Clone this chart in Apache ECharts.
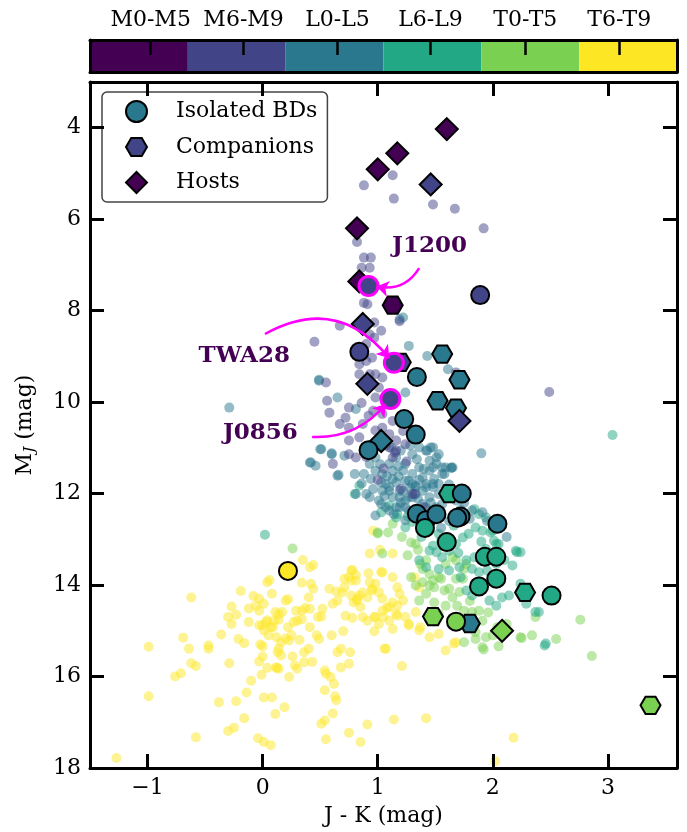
<!DOCTYPE html>
<html>
<head>
<meta charset="utf-8">
<script src="https://cdn.jsdelivr.net/npm/echarts@6.0.0/dist/echarts.min.js"></script>
<style>
  html, body { margin: 0; padding: 0; background: #fff; }
  #chart { width: 687px; height: 832px; }
</style>
</head>
<body>
<div id="chart"></div>
<script>
// spectral type bins (colorbar)
const spTypes = ['M0-M5', 'M6-M9', 'L0-L5', 'L6-L9', 'T0-T5', 'T6-T9'];
const spColors = ['#440154', '#414487', '#2a788e', '#22a884', '#7ad151', '#fde725'];
// where the colorbar ticks sit, in colour-bin units (0..6)
const cbTickPos = [0.62, 1.57, 2.53, 3.48, 4.45, 5.41];

const xTicks = [-1, 0, 1, 2, 3];
const yTicks = [4, 6, 8, 10, 12, 14, 16, 18];

// field objects, [J-K, M_J], one list per spectral bin
const fieldT6T9 = [
    [-0.99,15.35],[-0.99,16.43],[-0.62,14.27],[-0.69,15.15],[-0.64,15.39],[-0.76,16.0],[-0.71,15.93],[-0.62,15.71],
    [-0.58,15.77],[-0.47,15.32],[-0.47,15.39],[-0.58,17.33],[-0.38,16.56],[-0.29,15.71],[-0.36,15.08],[-0.27,14.47],
    [-0.23,14.65],[-0.30,14.70],[-0.27,14.85],[-0.19,14.13],[-0.21,15.18],[-0.16,15.27],[-0.23,16.54],[-0.14,16.35],
    [-0.16,16.91],[-0.30,17.19],[-0.25,17.12],[-0.10,16.09],[-0.12,14.81],[-0.12,14.51],[-0.08,14.24],[-0.03,14.30],
    [-0.03,14.56],[0.01,14.41],[-0.06,14.45],[0.04,13.94],[0.06,13.89],[0.08,14.19],[0.0,14.88],[-0.03,14.88],
    [0.04,14.77],[-0.02,15.30],[0.0,15.34],[0.0,15.56],[-0.03,15.67],[-0.01,15.96],[0.04,15.81],[0.12,15.81],
    [0.01,16.46],[0.08,16.46],[0.11,16.82],[0.19,16.67],[-0.04,17.35],[0.01,17.43],[0.07,17.50],[0.11,14.59],
    [0.14,14.64],[0.20,14.34],[0.22,14.31],[0.07,14.92],[0.10,14.78],[0.14,14.76],[0.17,14.59],[0.03,14.81],
    [0.01,14.99],[0.09,14.92],[0.05,15.10],[0.12,15.14],[0.16,15.25],[0.14,15.39],[0.20,15.17],[0.23,15.21],
    [0.13,15.47],[0.16,15.54],[0.12,15.80],[0.14,15.83],[0.23,16.01],[0.28,15.76],[0.30,15.83],[0.26,15.56],
    [0.36,15.69],[0.43,15.68],[0.40,15.39],[0.36,15.47],[0.32,15.20],[0.25,15.10],[0.22,14.92],[0.27,14.81],
    [0.30,14.78],[0.34,14.75],[0.41,14.92],[0.37,14.50],[0.29,14.56],[0.34,14.56],[0.41,14.52],[0.40,14.27],
    [0.44,14.08],[0.34,13.95],[0.42,13.97],[0.41,13.61],[0.44,13.56],[0.35,13.45],[0.48,14.70],[0.52,14.52],
    [0.51,14.69],[0.47,15.10],[0.49,15.18],[0.54,15.87],[0.55,15.94],[0.59,16.01],[0.62,16.16],[0.54,16.30],
    [0.63,16.43],[0.64,16.52],[0.61,16.81],[0.51,17.03],[0.54,16.96],[0.55,17.37],[0.75,17.23],[0.85,17.43],
    [0.91,17.05],[0.60,15.10],[0.65,15.47],[0.68,15.39],[0.76,15.47],[0.75,15.72],[0.68,15.80],[0.58,14.08],
    [0.64,14.14],[0.69,14.16],[0.61,14.41],[0.65,14.34],[0.70,15.01],[0.77,13.68],[0.81,13.78],[0.92,13.74],
    [0.71,13.86],[0.77,13.90],[0.72,14.67],[0.78,14.72],[0.79,14.38],[0.82,14.34],[0.85,14.48],[0.87,14.70],
    [0.97,14.70],[0.97,15.01],[0.84,14.23],[0.91,14.27],[0.95,14.08],[0.98,13.97],[1.01,14.16],[1.04,14.30],
    [1.05,14.70],[1.08,14.50],[1.13,14.38],[1.13,14.96],[1.07,15.39],[0.93,13.31],[1.04,13.72],[1.13,13.83],
    [1.17,14.05],[1.16,14.63],[1.14,16.94],[0.96,12.81],[1.02,13.23],[1.13,13.31],[0.78,13.67],[0.75,13.83],
    [0.81,13.90],[0.71,14.05],[0.77,14.23],[0.82,14.30],[0.87,14.16],[0.93,13.94],[0.95,14.12],[1.03,13.72],
    [1.19,14.19],[1.22,14.34],[1.17,14.45],[1.10,14.48],[1.04,14.56],[0.98,14.70],[0.91,14.78],[1.01,14.85],
    [1.10,14.78],[1.17,14.67],[1.24,14.70],[1.33,14.59],[1.27,14.85],[1.36,14.99],[1.45,15.14],[1.53,15.07],
    [1.66,15.28],[1.36,14.05],[1.32,13.83],[1.06,15.39],[1.21,15.77],[1.42,16.91],[2.18,17.34],[2.02,17.85],
    [1.59,15.43],[1.68,15.25],[1.37,14.92],[1.27,14.88],[-1.27,17.78]
];
const fieldT0T5 = [
    [1.29,13.07],[1.13,12.66],[1.09,12.85],[1.00,12.85],[1.33,13.10],[1.37,13.54],[1.45,13.76],[1.48,13.90],
    [1.53,13.83],[1.49,14.05],[1.58,14.12],[1.62,14.08],[1.65,14.27],[1.69,14.45],[1.75,14.56],[1.82,14.59],
    [1.88,14.56],[1.91,14.78],[1.85,15.03],[1.94,15.14],[2.00,15.10],[2.04,14.92],[1.91,15.36],[2.24,15.14],
    [2.34,15.10],[2.37,14.70],[1.39,13.94],[1.42,14.19],[1.33,14.01],[1.29,13.83],[1.68,13.86],[1.59,13.54],
    [1.65,13.39],[1.75,13.65],[1.53,14.63],[1.45,14.78],[1.59,14.45],[2.76,14.76],[2.86,15.55],[2.55,15.18],
    [2.25,15.16],[1.92,15.41],[2.05,15.34],[1.75,15.25],[1.85,15.18],[1.36,14.34],[1.45,14.01],[1.49,14.38],
    [0.26,13.20],[1.00,12.87],[1.04,13.31],[1.35,13.23],[1.42,13.46],[1.39,13.65],[1.55,13.86],[1.74,13.86],
    [1.77,13.54],[1.68,13.46],[1.21,12.95],[1.26,13.35],[1.71,14.15],[1.96,14.60],[2.12,14.85],[1.80,14.35]
];
const fieldL6L9 = [
    [0.84,11.83],[0.80,12.01],[1.03,12.41],[1.10,12.26],[1.17,12.45],[1.24,12.74],[1.45,12.81],[1.53,12.88],
    [1.55,13.03],[1.48,13.14],[1.51,13.28],[1.56,13.39],[1.62,13.25],[1.68,13.10],[1.74,12.96],[1.79,12.88],
    [1.84,12.34],[1.88,12.45],[1.94,12.52],[1.85,12.74],[1.91,12.81],[1.98,12.85],[2.03,13.10],[1.94,13.21],
    [1.84,13.39],[1.77,13.46],[1.71,13.61],[1.82,13.65],[1.88,13.72],[1.95,13.68],[2.03,13.54],[2.20,13.25],
    [2.24,13.28],[2.17,13.57],[2.24,13.97],[2.29,14.41],[2.40,14.59],[2.46,15.28],[2.14,14.23],[2.08,14.27],
    [2.03,14.45],[1.97,14.34],[1.82,14.23],[1.77,14.12],[1.72,13.83],[1.62,13.68],[1.53,13.65],[1.42,13.61],
    [1.36,13.46],[1.45,13.25],[2.21,13.28],[3.04,10.72],[2.00,12.81],[2.01,13.03],[2.05,13.10],[2.37,14.59],
    [2.45,15.32],[0.02,12.90],[1.16,12.52],[1.30,12.62],[1.38,12.95],[1.66,12.70],[1.60,12.95],[1.70,13.30],
    [1.90,13.05],[2.10,13.45],[1.36,12.40],[1.26,12.50]
];
const fieldL0L5 = [
    [0.49,9.53],[0.65,9.90],[0.81,10.15],[0.51,11.03],[0.42,11.32],[0.46,11.39],[0.66,11.59],[0.60,11.14],
    [0.71,11.17],[0.80,11.57],[0.88,11.57],[0.94,11.68],[0.81,12.01],[0.90,12.01],[1.03,11.76],[0.98,11.50],
    [1.10,11.35],[1.16,11.21],[1.20,11.06],[1.24,11.35],[1.30,11.14],[1.36,10.99],[1.42,11.06],[1.46,10.99],
    [1.53,11.14],[1.59,11.43],[1.65,11.43],[1.45,11.50],[1.39,11.65],[1.33,11.83],[1.24,11.72],[1.16,11.76],
    [1.10,11.94],[1.19,12.08],[1.27,12.08],[1.33,12.01],[1.39,11.94],[1.48,11.86],[1.53,11.79],[1.16,12.30],
    [1.24,12.30],[1.03,12.23],[1.10,12.37],[0.98,12.48],[0.93,12.08],[1.04,11.94],[1.13,11.50],[1.22,11.50],
    [1.30,11.57],[1.36,11.43],[1.45,11.28],[1.51,11.35],[1.56,11.57],[1.49,11.68],[1.42,11.79],[1.30,11.79],
    [1.22,11.94],[1.13,12.08],[1.07,11.79],[1.04,11.57],[0.93,11.35],[0.98,11.21],[1.13,11.68],[1.27,11.72],
    [1.33,11.86],[1.42,11.86],[1.48,11.79],[1.45,12.08],[1.53,12.01],[1.56,12.23],[1.51,12.30],[1.39,12.23],
    [1.30,12.08],[1.24,12.15],[1.19,11.94],[1.10,11.86],[1.01,12.15],[1.07,12.30],[1.19,12.30],[1.27,12.37],
    [1.33,12.52],[1.42,12.30],[1.48,11.43],[1.56,11.43],[1.64,11.43],[1.51,11.21],[1.43,11.06],[1.48,10.99],
    [1.90,11.12],[-0.29,10.12],[0.50,11.03],[0.60,11.12],[0.41,11.32],[0.65,11.61],[1.19,8.19],[1.22,8.15],
    [1.27,8.77],[1.43,8.99],[1.61,9.28],[1.24,9.79],[1.58,11.57],[1.64,11.44],[1.82,12.37],[1.91,12.41],
    [1.72,12.35],[1.80,12.55],[1.95,12.60],[2.06,12.72],[2.12,12.95],[1.62,12.60],[1.55,12.75],[0.49,9.51],
    [1.08,11.62],[1.18,11.62],[1.28,11.88],[1.36,11.70],[1.20,12.20],[1.35,12.12],[1.46,12.20],[1.58,12.05],
    [1.62,11.80],[1.68,12.15],[1.12,11.00],[1.28,10.95],[1.02,11.36],[0.86,11.78],[0.96,11.90],[1.14,12.45],
    [1.24,12.58],[1.40,11.46],[1.34,11.25],[1.18,11.40],[1.55,12.48],[1.66,11.98],[1.75,12.20],[1.06,12.05]
];
const fieldM6M9 = [
    [0.88,5.26],[1.13,5.04],[1.14,5.55],[1.48,5.68],[1.67,5.77],[1.92,6.20],[0.82,6.50],[0.88,6.84],
    [0.94,6.84],[0.93,7.06],[0.86,7.06],[0.88,7.83],[0.91,7.86],[1.19,8.23],[0.67,8.33],[0.97,8.26],
    [1.03,8.44],[0.45,8.68],[0.55,9.57],[0.58,10.23],[0.56,9.97],[0.75,10.12],[0.72,10.34],[0.67,10.48],
    [0.75,10.56],[0.87,10.48],[0.84,10.77],[0.75,10.84],[0.81,11.21],[0.75,11.14],[0.61,11.35],[0.98,9.90],
    [0.96,10.19],[1.04,10.26],[1.04,10.56],[1.13,10.41],[1.10,10.70],[1.16,10.84],[1.22,10.63],[1.01,10.84],
    [0.93,8.52],[0.97,8.59],[0.90,8.73],[0.84,9.17],[0.90,9.10],[0.95,9.03],[0.98,9.39],[0.93,9.39],
    [1.04,9.46],[1.01,9.68],[0.84,9.39],[1.10,10.99],[1.16,11.06],[1.24,10.92],[1.32,10.63],[1.13,11.21],
    [1.30,12.01],[1.68,9.35],[2.49,9.78],[1.25,11.30],[1.05,11.45],[1.15,11.10],[0.95,11.00],[1.20,11.90],
    [1.40,12.30],[1.32,12.01],[0.92,10.30],[0.98,10.62],[0.86,10.02],[1.07,10.95],[0.90,11.20],[1.00,11.70]
];

// [J-K, M_J, spectral bin index, name]
const isolatedBDs = [
    [1.89,7.66,1],[0.84,8.90,1],
    [1.34,9.45,2],[1.23,10.37,2],[1.33,10.71,2],[0.92,11.05,2],[1.73,12.00,2],[1.34,12.44,2],
    [1.42,12.58,2],[1.51,12.45,2],[1.72,12.50,2],[1.69,12.53,2],[2.04,12.66,2],
    [1.41,12.75,3],[1.60,13.06,3],[1.93,13.38,3],[2.03,13.38,3],[2.03,13.86,3],[1.88,14.03,3],[2.51,14.23,3],
    [1.68,14.80,4],[0.22,13.69,5],
    [0.92,7.46,1,'J1200'],[1.14,9.14,1,'TWA28'],[1.11,9.93,1,'J0856']
];
const companions = [
    [1.13,7.88,0],[1.20,9.13,1],[1.56,8.95,2],[1.71,9.51,2],[1.52,9.97,2],[1.68,10.13,2],
    [1.62,12.00,3],[2.28,14.16,3],[1.48,14.69,4],[1.80,14.84,2],[3.37,16.63,4]
];
const hosts = [
    [1.60,4.03,0],[1.17,4.56,0],[1.00,4.91,0],[1.46,5.24,1],[0.82,6.20,0],[0.84,7.36,0],
    [0.87,8.29,1],[0.91,9.60,1],[1.71,10.41,1],[1.03,10.85,2],[2.08,15.00,4]
];

// labels and arrows for the three named objects
const annotations = [
    { name: 'J1200', label: [1.45, 6.59], from: [1.36, 7.07], to: [0.99, 7.47], curve: 0.35 },
    { name: 'TWA28', label: [-0.16, 9.00], from: [0.02, 8.51], to: [1.10, 9.04], curve: 0.42 },
    { name: 'J0856', label: [-0.02, 10.68], from: [0.43, 10.76], to: [1.07, 10.04], curve: -0.25 },
];

const FONT = 'DejaVu Serif';
const hexagon = 'path://M0,0.866L0.5,0L1.5,0L2,0.866L1.5,1.732L0.5,1.732Z';

const minus = v => (v < 0 ? '\u2212' + Math.abs(v) : String(v));

function fieldSeries(data, bin) {
    return {
        type: 'scatter',
        name: 'field ' + spTypes[bin],
        data: data,
        symbolSize: 10,
        silent: true,
        itemStyle: { color: spColors[bin], opacity: 0.5 },
        z: 2,
    };
}

function markerData(list) {
    return list.map(p => {
        let style = { color: spColors[p[2]] };
        if (p[3]) {
            style.borderColor = '#ff00ff';
            style.borderWidth = 3;
        }
        return { value: [p[0], p[1]], name: p[3] || '', itemStyle: style, symbolSize: p[3] ? 19 : undefined };
    });
}

const frameLine = { show: true, onZero: false, lineStyle: { color: '#000', width: 3 } };
const tickStyle = { color: '#000', width: 3 };
const labelFont = { fontFamily: FONT, fontSize: 22, color: '#000' };
const hidden = { axisTick: { show: false }, axisLabel: { show: false }, splitLine: { show: false } };

const chart = echarts.init(document.getElementById('chart'));

const option = {
    animation: false,
    backgroundColor: '#fff',
    grid: [
        { left: 90, right: 10, top: 82, bottom: 64 },
        { left: 90, right: 10, top: 40, height: 32 },
    ],
    legend: {
        data: ['Isolated BDs', 'Companions', 'Hosts'],
        orient: 'vertical',
        left: 102,
        top: 92,
        padding: [8, 10, 8, 23],
        itemWidth: 21,
        itemHeight: 21,
        itemGap: 13,
        borderColor: '#444',
        borderWidth: 1.5,
        borderRadius: 5,
        selectedMode: false,
        textStyle: { fontFamily: FONT, fontSize: 22, color: '#000', padding: [0, 0, 0, 24] },
    },
    xAxis: [
        {
            gridIndex: 0, type: 'value', min: -1.5, max: 3.6, position: 'bottom',
            axisLine: frameLine,
            axisTick: { show: true, inside: true, length: 14, lineStyle: tickStyle, customValues: xTicks },
            axisLabel: { ...labelFont, margin: 9, customValues: xTicks, formatter: minus },
            splitLine: { show: false },
            name: 'J - K (mag)', nameLocation: 'middle', nameGap: 37,
            nameTextStyle: { fontFamily: FONT, fontSize: 22, color: '#000' },
            z: 10,
        },
        {
            gridIndex: 0, type: 'value', min: -1.5, max: 3.6, position: 'top',
            axisLine: frameLine,
            axisTick: { show: true, inside: true, length: 14, lineStyle: tickStyle, customValues: xTicks },
            axisLabel: { show: false },
            splitLine: { show: false },
            z: 10,
        },
        // colorbar: category axis carries the colour blocks
        {
            gridIndex: 1, type: 'category', data: spTypes, position: 'bottom',
            axisLine: frameLine, ...hidden,
            z: 10,
        },
        // colorbar: value axis carries the ticks and names
        {
            gridIndex: 1, type: 'value', min: 0, max: 6, position: 'top',
            axisLine: frameLine,
            axisTick: { show: true, inside: true, length: 15, lineStyle: { color: '#000', width: 2.5 }, customValues: cbTickPos },
            axisLabel: { ...labelFont, margin: 9, customValues: cbTickPos, formatter: v => spTypes[cbTickPos.indexOf(v)] },
            splitLine: { show: false },
            z: 10,
        },
    ],
    yAxis: [
        {
            gridIndex: 0, type: 'value', min: 3, max: 18, inverse: true, position: 'left',
            axisLine: frameLine,
            axisTick: { show: true, inside: true, length: 14, lineStyle: tickStyle, customValues: yTicks },
            axisLabel: { ...labelFont, margin: 9, customValues: yTicks },
            splitLine: { show: false },
            name: '{m|M}{j|J} (mag)', nameLocation: 'middle', nameGap: 52, nameRotate: 90,
            nameTextStyle: {
                fontFamily: FONT, fontSize: 22, color: '#000',
                rich: {
                    m: { fontFamily: FONT, fontSize: 22, color: '#000' },
                    j: { fontFamily: FONT, fontSize: 15, fontStyle: 'italic', color: '#000', padding: [10, 0, 0, 0] },
                },
            },
            z: 10,
        },
        {
            gridIndex: 0, type: 'value', min: 3, max: 18, inverse: true, position: 'right',
            axisLine: frameLine,
            axisTick: { show: true, inside: true, length: 14, lineStyle: tickStyle, customValues: yTicks },
            axisLabel: { show: false },
            splitLine: { show: false },
            z: 10,
        },
        { gridIndex: 1, type: 'value', min: 0, max: 1, position: 'left', axisLine: frameLine, ...hidden, z: 10 },
        { gridIndex: 1, type: 'value', min: 0, max: 1, position: 'right', axisLine: frameLine, ...hidden, z: 10 },
    ],
    series: [
        // colorbar
        {
            type: 'bar', xAxisIndex: 2, yAxisIndex: 2, silent: true,
            barCategoryGap: '0%',
            data: spColors.map(c => ({ value: 1, itemStyle: { color: c } })),
            z: 1,
        },
        fieldSeries(fieldT6T9, 5),
        fieldSeries(fieldT0T5, 4),
        fieldSeries(fieldL6L9, 3),
        fieldSeries(fieldL0L5, 2),
        fieldSeries(fieldM6M9, 1),
        {
            type: 'scatter', name: 'Companions', data: markerData(companions),
            symbol: hexagon, symbolKeepAspect: true, symbolSize: 20,
            itemStyle: { color: spColors[1], borderColor: '#000', borderWidth: 2, opacity: 1 },
            z: 4,
        },
        {
            type: 'scatter', name: 'Hosts', data: markerData(hosts),
            symbol: 'diamond', symbolSize: 22,
            itemStyle: { color: spColors[0], borderColor: '#000', borderWidth: 2, opacity: 1 },
            z: 4,
        },
        {
            type: 'scatter', name: 'Isolated BDs', data: markerData(isolatedBDs),
            symbol: 'circle', symbolSize: 18,
            itemStyle: { color: spColors[2], borderColor: '#000', borderWidth: 2, opacity: 1 },
            z: 5,
        },
        // curved magenta arrows
        {
            type: 'lines', coordinateSystem: 'cartesian2d', silent: true,
            symbol: ['none', 'arrow'], symbolSize: 12,
            lineStyle: { color: '#ff00ff', width: 2.5, opacity: 1 },
            data: annotations.map(a => ({ coords: [a.from, a.to], lineStyle: { curveness: a.curve } })),
            z: 6,
        },
        // object names
        {
            type: 'scatter', name: 'names', silent: true,
            data: annotations.map(a => ({ value: a.label, name: a.name })),
            symbolSize: 1,
            itemStyle: { color: 'rgba(0,0,0,0)', opacity: 1 },
            label: {
                show: true, position: 'inside', formatter: p => p.name,
                fontFamily: FONT, fontWeight: 'bold', fontSize: 23, color: '#440154',
            },
            z: 6,
        },
    ],
};

chart.setOption(option);
</script>
</body>
</html>
